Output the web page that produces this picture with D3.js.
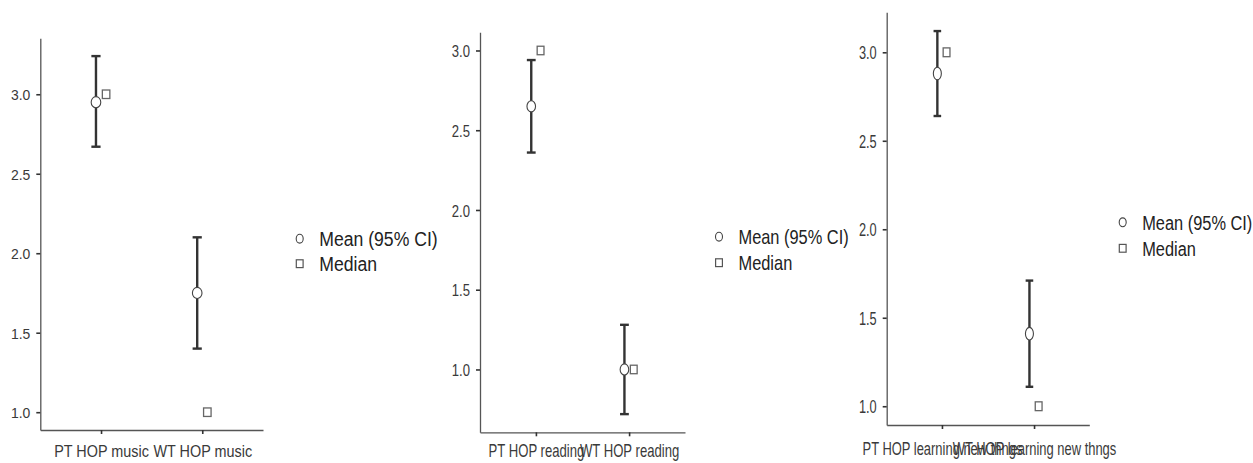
<!DOCTYPE html>
<html><head><meta charset="utf-8">
<script src="https://cdn.jsdelivr.net/npm/d3@7"></script>
<style>body{margin:0;background:#fff} svg{display:block}</style>
</head><body>
<svg id="c" width="1253" height="463"></svg>
<script>
// ---- data ----
const categories = [
  ["PT HOP music", "WT HOP music"],
  ["PT HOP reading", "WT HOP reading"],
  ["PT HOP learning new thngs", "WT HOP learning new thngs"]
];
const means   = [[2.95, 1.75], [2.65, 1.00], [2.88, 1.41]];
const ciLow   = [[2.67, 1.40], [2.36, 0.72], [2.64, 1.11]];
const ciHigh  = [[3.24, 2.10], [2.94, 1.28], [3.12, 1.71]];
const medians = [[3, 1], [3, 1], [3, 1]];
const yTicks  = [1.0, 1.5, 2.0, 2.5, 3.0];
const legendLabels = ["Mean (95% CI)", "Median"];

// ---- layout (per panel) ----
const layout = [
  {left:40.3, right:263, top:38.3, bottom:430, tickFs:15.5, tickSx:0.9, xFs:16, xSx:0.9, xBase:457.3,
   legX:299.7, legY:238.7, legGap:25, legFs:21, legSx:0.84, rx:4.8, ry:5.6, cap:4.6, sqW:7.5, sqH:8.5},
  {left:480, right:685, top:32.3, bottom:432.3, tickFs:17, tickSx:0.77, xFs:17.5, xSx:0.75, xBase:457.3,
   legX:719, legY:236.7, legGap:26, legFs:20.5, legSx:0.8, rx:4.3, ry:5.6, cap:4.4, sqW:6.8, sqH:8.5},
  {left:886.7, right:1089.3, top:12.3, bottom:425, tickFs:17.5, tickSx:0.73, xFs:18.5, xSx:0.7, xBase:455,
   legX:1122.7, legY:222.3, legGap:26, legFs:21, legSx:0.78, rx:4, ry:6.3, cap:3.8, sqW:6.8, sqH:8.8}
];
const FONT = "'Liberation Sans', Arial, sans-serif";
const svg = d3.select("#c");

layout.forEach((L, p) => {
  const cats = categories[p];
  const all = [].concat(means[p], ciLow[p], ciHigh[p], medians[p]);
  const lo = d3.min(all), hi = d3.max(all), pad = (hi - lo) * 0.05;
  const y = d3.scaleLinear().domain([lo - pad, hi + pad]).range([L.bottom, L.top]);
  const x = d3.scalePoint().domain(cats).range([L.left, L.right]).padding(0.6);
  const dodge = x.step() * 0.05;
  const g = svg.append("g");

  // y axis
  const ya = g.append("g").attr("transform", `translate(${L.left},0)`)
    .call(d3.axisLeft(y).tickValues(yTicks).tickFormat(d3.format(".1f")).tickSize(4).tickSizeOuter(0));
  ya.select(".domain").attr("stroke", "#555").attr("stroke-width", 1.3);
  ya.selectAll(".tick line").attr("stroke", "#333").attr("stroke-width", 1.6);
  ya.selectAll(".tick text").attr("x", 0).attr("y", 0).attr("dy", null)
    .attr("transform", `translate(-10,${0.358 * L.tickFs}) scale(${L.tickSx},1)`)
    .attr("fill", "#3a3a3a").style("font-family", FONT).style("font-size", L.tickFs + "px");

  // x axis
  const xa = g.append("g").attr("transform", `translate(0,${L.bottom})`)
    .call(d3.axisBottom(x).tickSize(4).tickSizeOuter(0));
  xa.select(".domain").attr("stroke", "#555").attr("stroke-width", 1.3);
  xa.selectAll(".tick line").attr("stroke", "#333").attr("stroke-width", 1.6);
  xa.selectAll(".tick text").attr("y", 0).attr("dy", null)
    .attr("transform", `translate(0,${L.xBase - L.bottom}) scale(${L.xSx},1)`)
    .attr("fill", "#3a3a3a").style("font-family", FONT).style("font-size", L.xFs + "px");

  // error bars, means, medians
  cats.forEach((c, i) => {
    const cx = x(c) - dodge;
    g.append("line").attr("x1", cx).attr("x2", cx).attr("y1", y(ciLow[p][i])).attr("y2", y(ciHigh[p][i]))
      .attr("stroke", "#333").attr("stroke-width", 2.4);
    [ciLow[p][i], ciHigh[p][i]].forEach(v => {
      g.append("line").attr("x1", cx - L.cap).attr("x2", cx + L.cap).attr("y1", y(v)).attr("y2", y(v))
        .attr("stroke", "#333").attr("stroke-width", 2.4);
    });
    g.append("ellipse").attr("cx", cx).attr("cy", y(means[p][i])).attr("rx", L.rx).attr("ry", L.ry)
      .attr("fill", "#fff").attr("stroke", "#444").attr("stroke-width", 1.1);
    const mx = x(c) + dodge;
    g.append("rect").attr("x", mx - L.sqW / 2).attr("y", y(medians[p][i]) - L.sqH / 2)
      .attr("width", L.sqW).attr("height", L.sqH)
      .attr("fill", "#fff").attr("stroke", "#666").attr("stroke-width", 1.3);
  });

  // legend
  legendLabels.forEach((lab, k) => {
    const ly = L.legY + k * L.legGap;
    if (k === 0) {
      g.append("ellipse").attr("cx", L.legX).attr("cy", ly).attr("rx", 3.5).attr("ry", 4.4)
        .attr("fill", "#fff").attr("stroke", "#444").attr("stroke-width", 1.1);
    } else {
      g.append("rect").attr("x", L.legX - 3.4).attr("y", ly - 3.9).attr("width", 6.8).attr("height", 7.8)
        .attr("fill", "#fff").attr("stroke", "#555").attr("stroke-width", 1.2);
    }
    g.append("text").text(lab)
      .attr("transform", `translate(${L.legX + 19.5},${ly + 0.358 * L.legFs}) scale(${L.legSx},1)`)
      .attr("fill", "#222").style("font-family", FONT).style("font-size", L.legFs + "px");
  });
});
</script>
</body></html>
